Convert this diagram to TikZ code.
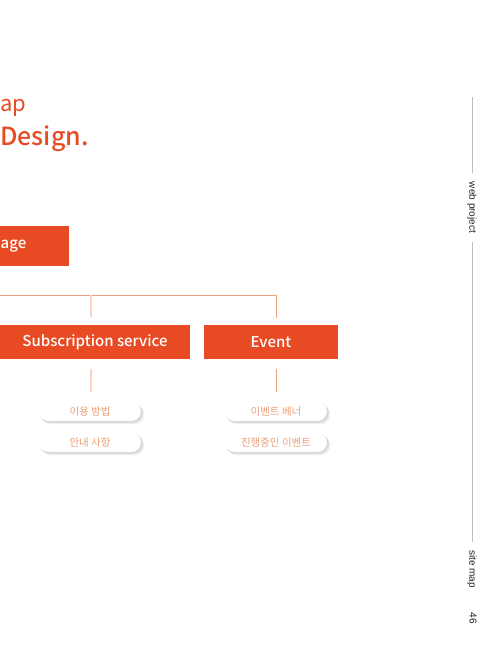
\documentclass[tikz,border=0pt]{standalone}
\usepackage{fontspec}
\setmainfont{Noto Sans CJK KR}
\newfontfamily\krmed{Noto Sans CJK KR}[UprightFont=* Medium]
\newfontfamily\sidefont{Liberation Sans}
\pgfdeclarelayer{background}
\pgfsetlayers{background,main}
\definecolor{accent}{HTML}{E84B24}
\definecolor{linec}{HTML}{E9A384}
\definecolor{palec}{HTML}{F6D3C4}
\definecolor{pilltext}{HTML}{E9A07A}
\definecolor{sidegray}{HTML}{BDBDBD}
\definecolor{sidetext}{HTML}{222222}
\tikzset{
  titlelight/.style={text=accent, font=\fontsize{22}{26}\selectfont, inner sep=0pt},
  titlebold/.style={text=accent, font=\krmed\fontsize{25}{28}\selectfont, inner sep=0pt},
  redbox/.style={fill=accent, text=white, font=\krmed\fontsize{15}{18}\selectfont, inner sep=0pt, minimum height=34pt},
  pill/.style={fill=white, rounded corners=9.5pt, minimum width=102pt, minimum height=19pt, inner sep=0pt,
    text=pilltext, font=\fontsize{10.5}{12}\selectfont},
  pillshadow/.style={fill=black, fill opacity=0.045, rounded corners=9.5pt},
  conn/.style={draw=linec, line width=0.9pt},
  paleconn/.style={draw=palec, line width=1.4pt},
  sideline/.style={draw=sidegray, line width=0.6pt},
  sidelabel/.style={rotate=-90, text=sidetext, font=\sidefont\fontsize{10}{12}\selectfont, inner ysep=0pt}
}
\begin{document}
\begin{tikzpicture}[x=1pt,y=-1pt]
\useasboundingbox (0,0) rectangle (498,646);
\begin{pgfonlayer}{background}
\fill[white] (0,0) rectangle (498,646);
\end{pgfonlayer}

% title fragments
\node[titlelight, anchor=base west] (t1) at (0.3,111) {ap};
\node[titlebold, anchor=base west] (t2) at (0,145) {Design.};

% top box fragment
\node[redbox, anchor=west, minimum width=69pt, minimum height=40pt] (page) at (0,246) {};
\node[text=white, font=\krmed\fontsize{15}{18}\selectfont, anchor=west, inner sep=0pt] (pagetxt) at (0.5,246) {age};

% level boxes
\node[redbox, minimum width=190pt] (sub) at (95,342) {Subscription service};
\node[redbox, minimum width=134pt] (event) at (271,342) {Event};

% connectors
\coordinate (hl) at (0,295);
\coordinate (j1) at (91,295);
\coordinate (d1) at (91,317);
\coordinate (d2) at (276,318);
\draw[conn] (hl) -| (d2);
\draw[paleconn] (j1) -- (d1);

\coordinate (s1a) at (91,369);
\coordinate (s1b) at (91,392);
\coordinate (s2a) at (276,369);
\coordinate (s2b) at (276,392);
\draw[paleconn] (s1a) -- (s1b);
\draw[conn] (s2a) -- (s2b);

% pills
\node[pill] (p1) at (90,411.5) {이용 방법};
\node[pill] (p2) at (90,442.5) {안내 사항};
\node[pill] (p3) at (276,411.5) {이벤트 베너};
\node[pill] (p4) at (276,442.5) {진행중인 이벤트};

\begin{pgfonlayer}{background}
\foreach \p in {p1,p2,p3,p4}{
  \foreach \o in {0.8,1.6,2.4,3.2}{
    \fill[pillshadow] ([shift={(\o pt-0.6pt,-\o pt+0.2pt)}]\p.north west) rectangle ([shift={(\o pt,-\o pt)}]\p.south east);
  }
}
\end{pgfonlayer}

% side navigation
\coordinate (top) at (472,97);
\node[sidelabel, inner xsep=9pt] (wp) at (472,207.5) {web project};
\node[sidelabel, inner xsep=8pt] (sm) at (472,569) {site map};
\node[sidelabel, inner sep=0pt] (pg) at (473,618) {46};
\draw[sideline] (top) -- (wp.west);
\draw[sideline] (wp.east) -- (sm.west);
\end{tikzpicture}
\end{document}
